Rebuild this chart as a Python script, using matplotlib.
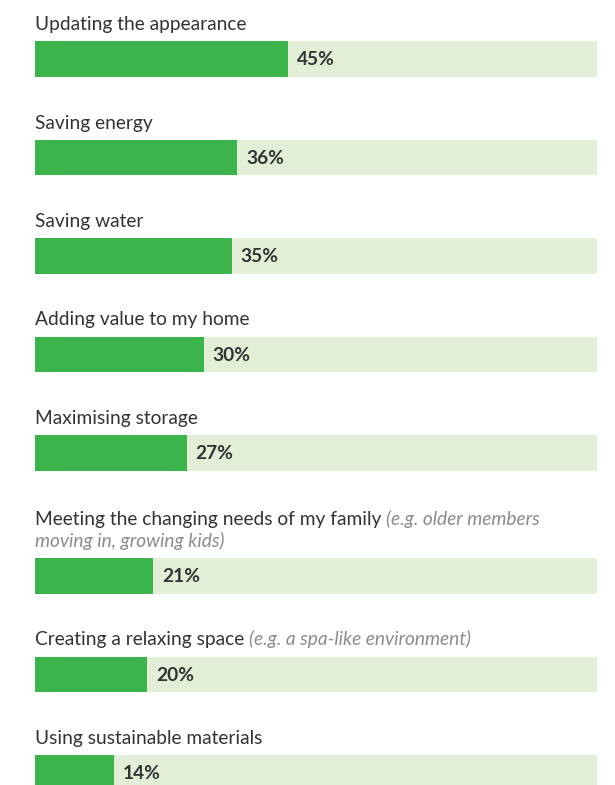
import matplotlib
matplotlib.use("Agg")
import matplotlib.pyplot as plt

labels = [
    "Updating the appearance",
    "Saving energy",
    "Saving water",
    "Adding value to my home",
    "Maximising storage",
    "Meeting the changing needs of my family",
    "Creating a relaxing space",
    "Using sustainable materials",
]
notes = [
    "", "", "", "", "",
    "(e.g. older members\nmoving in, growing kids)",
    "(e.g. a spa-like environment)",
    "",
]
values = [45, 36, 35, 30, 27, 21, 20, 14]

GREEN = "#3bb44b"
LIGHT = "#e2eed6"
TEXT = "#333333"
NOTE = "#8c8c8c"
FONT = "Lato"

W, H = 615, 785
fig = plt.figure(figsize=(W / 100, H / 100), dpi=100)
ax = fig.add_axes([35 / W, 0, 562 / W, 1])
ax.set_xlim(0, 100)
ax.set_ylim(H, 0)
ax.axis("off")

bar_h = 35.5
step = 98.5
wrap_extra = 24.5
line_gap = 22
fs = 13.8
fs_val = 13.8

fig.canvas.draw()
renderer = fig.canvas.get_renderer()

top = 41
for i, (lab, note, v) in enumerate(zip(labels, notes, values)):
    n_extra = note.count("\n")
    if i > 0:
        top += step + wrap_extra * n_extra
    ax.barh(top + bar_h / 2, 100, height=bar_h, color=LIGHT, left=0, zorder=1)
    ax.barh(top + bar_h / 2, v, height=bar_h, color=GREEN, left=0, zorder=2)
    ax.text(v + 1.6, top + bar_h / 2 + 1, f"{v}%", ha="left", va="center",
            fontsize=fs_val, fontweight="bold", color=TEXT, family=FONT, zorder=3)
    base = top - 11 - line_gap * n_extra
    t = ax.text(0, base, lab, ha="left", va="baseline", fontsize=fs,
                color=TEXT, family=FONT)
    if note:
        nl = note.split("\n")
        bb = t.get_window_extent(renderer)
        x1 = ax.transData.inverted().transform((bb.x1 + 5, 0))[0]
        ax.text(x1, base, nl[0], ha="left", va="baseline", fontsize=fs,
                color=NOTE, family=FONT, style="italic")
        for k, extra in enumerate(nl[1:], start=1):
            ax.text(0, base + line_gap * k, extra, ha="left", va="baseline",
                    fontsize=fs, color=NOTE, family=FONT, style="italic")

fig.savefig("out.png", dpi=100)
